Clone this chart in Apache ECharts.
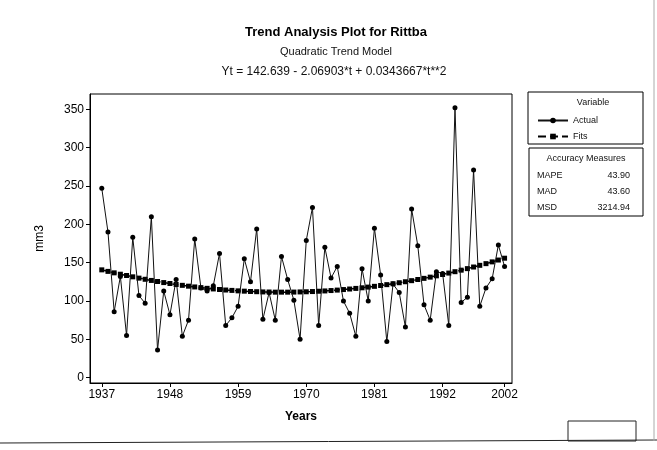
<!DOCTYPE html>
<html><head><meta charset="utf-8">
<script src="https://cdn.jsdelivr.net/npm/echarts@6/dist/echarts.min.js"></script>
<style>html,body{margin:0;padding:0;background:#fff}#c{width:657px;height:450px}</style>
</head><body><div id="c"></div>
<script>
const years = [1937,1938,1939,1940,1941,1942,1943,1944,1945,1946,
  1947,1948,1949,1950,1951,1952,1953,1954,1955,1956,
  1957,1958,1959,1960,1961,1962,1963,1964,1965,1966,
  1967,1968,1969,1970,1971,1972,1973,1974,1975,1976,
  1977,1978,1979,1980,1981,1982,1983,1984,1985,1986,
  1987,1988,1989,1990,1991,1992,1993,1994,1995,1996,
  1997,1998,1999,2000,2001,2002];
const actual = [247,190,86,132,55,183,107,97,210,36,
  113,82,128,54,75,181,117,113,120,162,
  68,78,93,155,125,194,76,111,75,158,
  128,101,50,179,222,68,170,130,145,100,
  84,54,142,100,195,134,47,122,111,66,
  220,172,95,75,138,136,68,352,98,105,
  271,93,117,129,173,145];
const fits = [140.6,138.6,136.7,134.9,133.2,131.5,129.8,128.3,126.8,125.4,
  124.0,122.8,121.5,120.4,119.3,118.3,117.4,116.5,115.7,115.0,
  114.3,113.8,113.2,112.8,112.4,112.1,111.8,111.7,111.5,111.5,
  111.5,111.6,111.8,112.0,112.3,112.7,113.1,113.6,114.2,114.9,
  115.6,116.4,117.2,118.1,119.1,120.2,121.3,122.5,123.8,125.1,
  126.5,128.0,129.5,131.1,132.8,134.5,136.4,138.2,140.2,142.2,
  144.3,146.5,148.7,151.0,153.4,155.8];
const xTicks = [1937,1948,1959,1970,1981,1992,2002];
const yTicks = [0,50,100,150,200,250,300,350];
const accuracyLabels = ['MAPE','MAD','MSD'];
const accuracyValues = ['43.90','43.60','3214.94'];

const FONT = 'Liberation Sans, Arial, sans-serif';
const chart = echarts.init(document.getElementById('c'), null, {renderer:'canvas'});
const actualData = years.map((y,i)=>[y, actual[i]]);
const fitsData = years.map((y,i)=>[y, fits[i]]);

const graphics = [
  {type:'text', left:null, x:336, y:26, style:{text:'Trend Analysis Plot for Rittba', font:'bold 13px '+FONT, fill:'#000', textAlign:'center'}},
  {type:'text', x:336, y:46, style:{text:'Quadratic Trend Model', font:'11px '+FONT, fill:'#111', textAlign:'center'}},
  {type:'text', x:334, y:66, style:{text:'Yt = 142.639 - 2.06903*t + 0.0343667*t**2', font:'12px '+FONT, fill:'#111', textAlign:'center'}},
  // legend box
  {type:'rect', shape:{x:528, y:92, width:115, height:52}, style:{fill:'none', stroke:'#000', lineWidth:1}},
  {type:'text', x:593, y:98, style:{text:'Variable', font:'9px '+FONT, fill:'#111', textAlign:'center'}},
  // accuracy box
  {type:'rect', shape:{x:529, y:148, width:114, height:68}, style:{fill:'none', stroke:'#000', lineWidth:1}},
  {type:'text', x:586, y:154, style:{text:'Accuracy Measures', font:'9px '+FONT, fill:'#111', textAlign:'center'}},
  // page decorations
  {type:'line', shape:{x1:0, y1:443, x2:657, y2:440}, style:{stroke:'#222', lineWidth:1}},
  {type:'rect', shape:{x:568, y:421, width:68, height:20}, style:{fill:'none', stroke:'#222', lineWidth:1}},
  {type:'line', shape:{x1:654, y1:0, x2:654, y2:441}, style:{stroke:'#aaa', lineWidth:1}}
];
accuracyLabels.forEach((l,i)=>{
  graphics.push({type:'text', x:537, y:171+i*16, style:{text:l, font:'9px '+FONT, fill:'#111'}});
  graphics.push({type:'text', x:630, y:171+i*16, style:{text:accuracyValues[i], font:'9px '+FONT, fill:'#111', textAlign:'right'}});
});

chart.setOption({
  animation:false,
  backgroundColor:'#fff',
  textStyle:{fontFamily:FONT},
  grid:{left:90, top:94, right:145, bottom:67, show:true, borderColor:'#000', borderWidth:1, containLabel:false},
  xAxis:{type:'value', min:1935.1, max:2003.2,
    name:'Years', nameLocation:'middle', nameGap:28,
    nameTextStyle:{fontSize:12, fontWeight:'bold', color:'#000', fontFamily:FONT},
    axisLine:{show:true, onZero:false, lineStyle:{color:'#000', width:1}},
    axisTick:{show:true, length:4, customValues:xTicks, lineStyle:{color:'#000'}},
    axisLabel:{customValues:xTicks, fontSize:12, color:'#000', margin:6, fontFamily:FONT, formatter:v=>String(v)},
    splitLine:{show:false}},
  yAxis:{type:'value', min:-7, max:370,
    name:'mm3', nameLocation:'middle', nameGap:44, nameRotate:90,
    nameTextStyle:{fontSize:12, color:'#000', fontFamily:FONT},
    axisLine:{show:true, onZero:false, lineStyle:{color:'#000', width:1}},
    axisTick:{show:true, length:4, customValues:yTicks, lineStyle:{color:'#000'}},
    axisLabel:{customValues:yTicks, fontSize:12, color:'#000', margin:6, fontFamily:FONT},
    splitLine:{show:false}},
  legend:{orient:'vertical', left:532, top:111, itemWidth:30, itemHeight:7, itemGap:7,
    textStyle:{fontSize:9, color:'#111', fontFamily:FONT}, data:['Actual','Fits']},
  series:[
    {name:'Actual', type:'line', data:actualData, symbol:'circle', symbolSize:5,
      lineStyle:{color:'#111', width:1}, itemStyle:{color:'#000'}, z:3},
    {name:'Fits', type:'line', data:fitsData, symbol:'rect', symbolSize:5,
      lineStyle:{color:'#000', width:1.5, type:'dashed'}, itemStyle:{color:'#000'}, z:2}
  ],
  graphic:graphics
});
</script></body></html>
